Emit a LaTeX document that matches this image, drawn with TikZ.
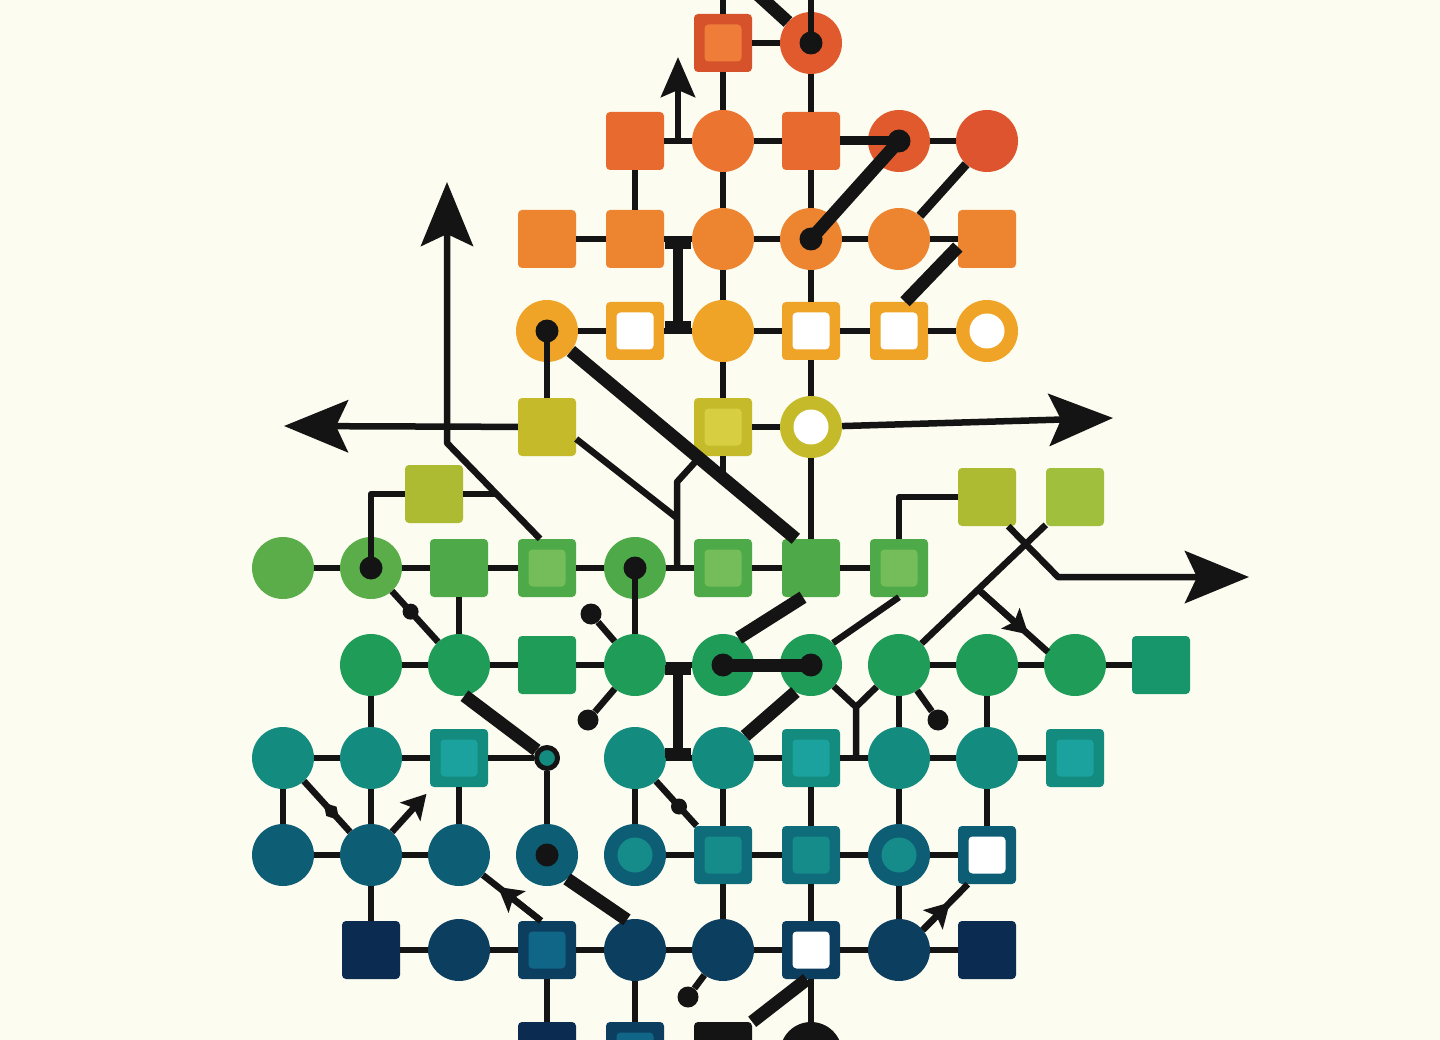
\documentclass[tikz,border=0pt]{standalone}
\usetikzlibrary{arrows.meta,calc,shapes.geometric}
\definecolor{ink}{RGB}{20,20,20}
\definecolor{paper}{RGB}{252,252,240}
\definecolor{redA}{RGB}{214,82,42}
\definecolor{redB}{RGB}{240,124,58}
\definecolor{redC}{RGB}{224,90,46}
\definecolor{redD}{RGB}{221,84,47}
\definecolor{orA}{RGB}{232,106,47}
\definecolor{orB}{RGB}{235,117,48}
\definecolor{orC}{RGB}{236,132,48}
\definecolor{gold}{RGB}{239,164,40}
\definecolor{oliveA}{RGB}{197,186,42}
\definecolor{oliveB}{RGB}{215,206,66}
\definecolor{limeA}{RGB}{172,187,50}
\definecolor{limeB}{RGB}{160,191,60}
\definecolor{leafA}{RGB}{90,173,72}
\definecolor{leafB}{RGB}{78,170,72}
\definecolor{leafC}{RGB}{116,189,90}
\definecolor{grassA}{RGB}{30,156,88}
\definecolor{grassB}{RGB}{22,150,106}
\definecolor{tealA}{RGB}{19,139,126}
\definecolor{tealB}{RGB}{28,162,158}
\definecolor{petA}{RGB}{13,94,116}
\definecolor{petB}{RGB}{15,108,122}
\definecolor{petC}{RGB}{21,140,138}
\definecolor{navyA}{RGB}{12,62,96}
\definecolor{navyB}{RGB}{11,44,80}
\definecolor{navyC}{RGB}{15,102,134}
\begin{document}
\begin{tikzpicture}[x=1pt,y=-1pt,line join=round,
	sq/.style={rectangle,rounded corners=4pt,minimum size=58pt,inner sep=0pt,fill=#1},
	sqq/.style 2 args={sq=#1,path picture={\fill[#2] ([shift={(-18.5pt,-18.5pt)}]path picture bounding box.center) rectangle ([shift={(18.5pt,18.5pt)}]path picture bounding box.center);}},
	sqo/.style={sqq={#1}{white}},
	ci/.style={circle,minimum size=62pt,inner sep=0pt,fill=#1},
	cid/.style={ci=#1,path picture={\fill[ink] (path picture bounding box.center) circle (11.5pt);}},
	cic/.style 2 args={ci=#1,path picture={\fill[#2] (path picture bounding box.center) circle (17.5pt);}},
	cio/.style={cic={#1}{white}},
	smallring/.style={circle,minimum size=21pt,inner sep=0pt,fill=tealA,draw=ink,line width=5pt},
	blackdot/.style={circle,minimum size=21pt,inner sep=0pt,fill=ink},
	pindot/.style={circle,minimum size=16pt,inner sep=0pt,fill=ink},
	pindiamond/.style={diamond,minimum width=24pt,minimum height=14pt,inner sep=0pt,fill=ink,rotate=-48},
	wire/.style={ink,line width=6.5pt},
	midwire/.style={ink,line width=9pt},
	heavywire/.style={ink,line width=13pt},
	ibeam/.style={ink,line width=10pt,{Bar[width=26pt]}-{Bar[width=26pt]}},
	bigarr/.style={wire,-{Stealth[length=64pt,width=52pt,inset=12pt]}},
	smlarr/.style={wire,-{Stealth[length=40pt,width=34pt,inset=7pt]}},
	midarr/.style={wire,-{Stealth[length=24pt,width=27pt,inset=5pt]}}]
	\fill[paper] (0,0) rectangle (1440,1040);
	\useasboundingbox (0,0) rectangle (1440,1040);
	\clip (0,0) rectangle (1440,1040);
	\coordinate (top6) at (723,-8);
	\coordinate (top7) at (811,-8);
	\coordinate (topd) at (755,-8);
	\coordinate (a1) at (678,141);
	\coordinate (a1t) at (678,57);
	\coordinate (ib1) at (678,239);
	\coordinate (ib2) at (678,331);
	\coordinate (ib3) at (678,665);
	\coordinate (ib4) at (678,758);
	\coordinate (tipl) at (284,426);
	\coordinate (ubk) at (447,443);
	\coordinate (tipu) at (447,182);
	\coordinate (tipr) at (1113,418);
	\coordinate (tipr2) at (1249,577);
	\coordinate (qe) at (497,494);
	\coordinate (ja) at (677,518);
	\coordinate (jb) at (697,460);
	\coordinate (jc) at (677,482);
	\coordinate (jd) at (677,568);
	\coordinate (je) at (723,479);
	\coordinate (yj) at (856,707);
	\coordinate (yb) at (856,758);
	% row 0
	\node[sqq={redA}{redB}] (r0c6) at (723,43) {};
	\node[cid=redC] (r0c7) at (811,43) {};
	% row 1
	\node[sq=orA] (r1c5) at (635,141) {};
	\node[ci=orB] (r1c6) at (723,141) {};
	\node[sq=orA] (r1c7) at (811,141) {};
	\node[cid=redC] (r1c8) at (899,141) {};
	\node[ci=redD] (r1c9) at (987,141) {};
	% row 2
	\node[sq=orC] (r2c4) at (547,239) {};
	\node[sq=orC] (r2c5) at (635,239) {};
	\node[ci=orC] (r2c6) at (723,239) {};
	\node[cid=orC] (r2c7) at (811,239) {};
	\node[ci=orC] (r2c8) at (899,239) {};
	\node[sq=orC] (r2c9) at (987,239) {};
	% row 3
	\node[cid=gold] (r3c4) at (547,331) {};
	\node[sqo=gold] (r3c5) at (635,331) {};
	\node[ci=gold] (r3c6) at (723,331) {};
	\node[sqo=gold] (r3c7) at (811,331) {};
	\node[sqo=gold] (r3c8) at (899,331) {};
	\node[cio=gold] (r3c9) at (987,331) {};
	% row 4
	\node[sq=oliveA] (r4c4) at (547,427) {};
	\node[sqq={oliveA}{oliveB}] (r4c6) at (723,427) {};
	\node[cio=oliveA] (r4c7) at (811,427) {};
	\node[sq=limeA] (r4bq) at (434,494) {};
	\node[sq=limeA] (r4bc9) at (987,497) {};
	\node[sq=limeB] (r4bc10) at (1075,497) {};
	% row 5
	\node[ci=leafA] (r5c1) at (283,568) {};
	\node[cid=leafA] (r5c2) at (371,568) {};
	\node[sq=leafB] (r5c3) at (459,568) {};
	\node[sqq={leafB}{leafC}] (r5c4) at (547,568) {};
	\node[cid=leafB] (r5c5) at (635,568) {};
	\node[sqq={leafB}{leafC}] (r5c6) at (723,568) {};
	\node[sq=leafB] (r5c7) at (811,568) {};
	\node[sqq={leafB}{leafC}] (r5c8) at (899,568) {};
	% row 6
	\node[ci=grassA] (r6c2) at (371,665) {};
	\node[ci=grassA] (r6c3) at (459,665) {};
	\node[sq=grassA] (r6c4) at (547,665) {};
	\node[ci=grassA] (r6c5) at (635,665) {};
	\node[cid=grassA] (r6c6) at (723,665) {};
	\node[cid=grassA] (r6c7) at (811,665) {};
	\node[ci=grassA] (r6c8) at (899,665) {};
	\node[ci=grassA] (r6c9) at (987,665) {};
	\node[ci=grassA] (r6c10) at (1075,665) {};
	\node[sq=grassB] (r6c11) at (1161,665) {};
	% row 7
	\node[ci=tealA] (r7c1) at (283,758) {};
	\node[ci=tealA] (r7c2) at (371,758) {};
	\node[sqq={tealA}{tealB}] (r7c3) at (459,758) {};
	\node[smallring] (r7c4) at (547,758) {};
	\node[ci=tealA] (r7c5) at (635,758) {};
	\node[ci=tealA] (r7c6) at (723,758) {};
	\node[sqq={tealA}{tealB}] (r7c7) at (811,758) {};
	\node[ci=tealA] (r7c8) at (899,758) {};
	\node[ci=tealA] (r7c9) at (987,758) {};
	\node[sqq={tealA}{tealB}] (r7c10) at (1075,758) {};
	% row 8
	\node[ci=petA] (r8c1) at (283,855) {};
	\node[ci=petA] (r8c2) at (371,855) {};
	\node[ci=petA] (r8c3) at (459,855) {};
	\node[cid=petA] (r8c4) at (547,855) {};
	\node[cic={petA}{petC}] (r8c5) at (635,855) {};
	\node[sqq={petB}{petC}] (r8c6) at (723,855) {};
	\node[sqq={petB}{petC}] (r8c7) at (811,855) {};
	\node[cic={petA}{petC}] (r8c8) at (899,855) {};
	\node[sqo=petA] (r8c9) at (987,855) {};
	% row 9
	\node[sq=navyB] (r9c2) at (371,950) {};
	\node[ci=navyA] (r9c3) at (459,950) {};
	\node[sqq={navyA}{navyC}] (r9c4) at (547,950) {};
	\node[ci=navyA] (r9c5) at (635,950) {};
	\node[ci=navyA] (r9c6) at (723,950) {};
	\node[sqo=navyA] (r9c7) at (811,950) {};
	\node[ci=navyA] (r9c8) at (899,950) {};
	\node[sq=navyB] (r9c9) at (987,950) {};
	% row 10
	\node[sq=navyB] (r10c4) at (547,1051) {};
	\node[sqq={navyA}{navyC}] (r10c5) at (635,1051) {};
	\node[sq=ink] (r10c6) at (723,1051) {};
	\node[ci=ink] (r10c7) at (811,1053) {};
	\node[blackdot] (s1) at (591,614) {};
	\node[blackdot] (s2) at (588,720) {};
	\node[blackdot] (s3) at (938,720) {};
	\node[blackdot] (s4) at (688,997) {};
	% rows
	\draw[wire] (r0c6) -- (r0c7);
	\draw[wire] (r1c5) -- (r1c6) -- (r1c7) (r1c8) -- (r1c9);
	\draw[midwire] (r1c7) -- (r1c8.center);
	\draw[wire] (r2c4) -- (r2c5) -- (r2c6) -- (r2c7) -- (r2c8) -- (r2c9);
	\draw[wire] (r3c4) -- (r3c5) -- (r3c6) -- (r3c7) -- (r3c8) -- (r3c9);
	\draw[wire] (r4c6) -- (r4c7);
	\draw[wire] (r5c1) -- (r5c2) -- (r5c3) -- (r5c4) -- (r5c5) -- (r5c6) -- (r5c7) -- (r5c8);
	\draw[wire] (r6c2) -- (r6c3) -- (r6c4) -- (r6c5) -- (r6c6) (r6c8) -- (r6c9) -- (r6c10) -- (r6c11);
	\draw[heavywire] (r6c6.center) -- (r6c7.center);
	\draw[wire] (r7c1) -- (r7c2) -- (r7c3) -- (r7c4) (r7c5) -- (r7c6) -- (r7c7) -- (r7c8) -- (r7c9) -- (r7c10);
	\draw[wire] (r8c1) -- (r8c2) -- (r8c3) (r8c5) -- (r8c6) -- (r8c7) -- (r8c8) -- (r8c9);
	\draw[wire] (r9c2) -- (r9c3) -- (r9c4) -- (r9c5) -- (r9c6) -- (r9c7) -- (r9c8) -- (r9c9);
	% columns
	\draw[wire] (top6) -- (r0c6) -- (r1c6) -- (r2c6) -- (r3c6) -- (r4c6);
	\draw[wire] (top7) -- (r0c7.center);
	\draw[wire] (r0c7) -- (r1c7) -- (r2c7) -- (r3c7) -- (r4c7) -- (r5c7);
	\draw[wire] (r1c5) -- (r2c5);
	\draw[wire] (r3c4.center) -- (r4c4);
	\draw[wire] (r5c3) -- (r6c3);
	\draw[wire] (r5c5.center) -- (r6c5);
	\draw[wire] (r6c2) -- (r7c2) -- (r8c2) -- (r9c2);
	\draw[wire] (r7c1) -- (r8c1) (r7c3) -- (r8c3) (r7c4) -- (r8c4) (r7c5) -- (r8c5);
	\draw[wire] (r7c6) -- (r8c6) -- (r9c6);
	\draw[wire] (r7c7) -- (r8c7) -- (r9c7) -- (r10c7);
	\draw[wire] (r6c8) -- (r7c8) -- (r8c8) -- (r9c8);
	\draw[wire] (r6c9) -- (r7c9) -- (r8c9);
	\draw[wire] (r9c4) -- (r10c4) (r9c5) -- (r10c5);
	\draw[ibeam] (ib1) -- (ib2);
	\draw[ibeam] (ib3) -- (ib4);
	% diagonals
	\draw[heavywire] (topd) -- (r0c7);
	\draw[heavywire] (r2c7.center) -- (r1c8.center);
	\draw[midwire] (r1c9) -- (r2c8);
	\draw[heavywire] ([yshift=-8pt]r2c9.west) -- ([xshift=6pt]r3c8.north);
	\draw[smlarr] (a1) -- (a1t);
	\draw[heavywire] (r3c4.-40) -- ([xshift=14pt]r5c7.north west);
	\draw[bigarr] (r4c4) -- (tipl);
	\draw[bigarr] ([xshift=-7pt]r5c4.north) -- (ubk) -- (tipu);
	\draw[bigarr] (r4c7) -- (tipr);
	\draw[wire] (r4bq) -| (r5c2.center);
	\draw[wire] (r4bq) -- (qe);
	\draw[wire] ([yshift=-12pt]r4c4.east) -- (ja);
	\draw[wire] (jb) -- (jc) -- (jd);
	\draw[wire] (r4c6) -- (je);
	\draw[wire] (r5c8) |- (r4bc9);
	\draw[bigarr] ([xshift=-8pt]r4bc9.south east) -- ++(50,51) -- (tipr2);
	\draw[wire] (r4bc10) -- (r6c8);
	\coordinate (br) at ($(r4bc10)!0.55!(r6c8)$);
	\coordinate (be) at ($(r6c10)+(-27,-13)$);
	\draw[wire] (br) -- (be);
	\draw[midarr] (br) -- ($(br)!0.72!(be)$);
	\draw[wire] (r5c8.south) -- (r6c7.45);
	\draw[heavywire] ([xshift=-8pt]r5c7.south) -- (r6c6.60);
	\draw[heavywire] (r6c7.-120) -- (r7c6.45);
	\draw[wire] (r6c7) -- (yj) (r6c8) -- (yj) -- (yb);
	\draw[wire] (r5c2) -- (r6c3);
	\draw[heavywire] (r6c3.-80) -- (r7c4);
	\draw[wire] (r7c1) -- (r8c2);
	\draw[wire] (r7c5) -- (r8c6);
	\draw[wire] (r6c5) -- (s1) (r6c5) -- (s2) (r6c8) -- (s3) (r9c6) -- (s4);
	\draw[midarr] (r8c2) -- ($(r8c2)!0.63!(r7c3)$);
	\coordinate (m1a) at ([xshift=-6pt]r9c4.north);
	\coordinate (m1b) at (r8c3.-40);
	\draw[wire] (m1a) -- (m1b);
	\draw[midarr] (m1a) -- ($(m1a)!0.74!(m1b)$);
	\coordinate (m2a) at (r9c8.40);
	\coordinate (m2b) at ([xshift=10pt]r8c9.south west);
	\draw[wire] (m2a) -- (m2b);
	\draw[midarr] (m2a) -- ($(m2a)!0.6!(m2b)$);
	\draw[heavywire] (r8c4.-50) -- (r9c5.105);
	\draw[heavywire] ([xshift=-4pt]r9c7.south) -- (r10c6.north east);
	% pins
	\node[pindot] (p1) at ($(r5c2)!0.45!(r6c3)$) {};
	\node[pindiamond] (p2) at ($(r7c1)!0.55!(r8c2)$) {};
	\node[pindot] (p3) at ($(r7c5)!0.5!(r8c6)$) {};
\end{tikzpicture}
\end{document}
